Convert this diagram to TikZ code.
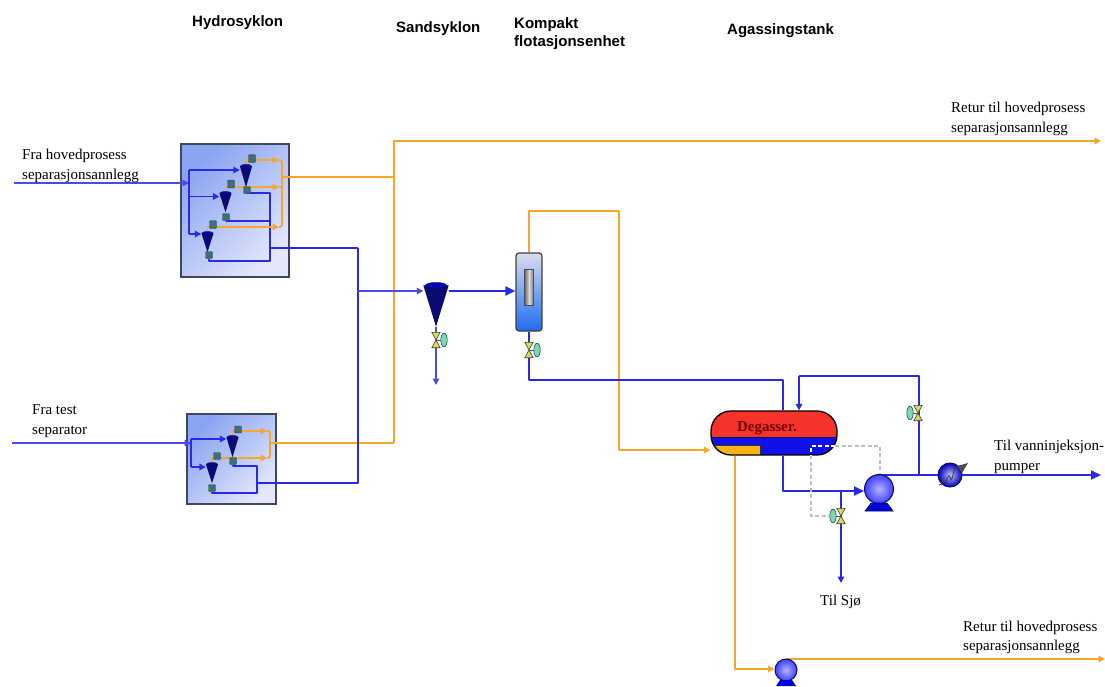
\documentclass[tikz,border=0pt]{standalone}
\usepackage{fontspec}
\setmainfont{Liberation Serif}
\newfontfamily\headfont{Liberation Sans}
\usetikzlibrary{arrows.meta}
\pgfdeclarelayer{boxes}\pgfdeclarelayer{wires}\pgfsetlayers{boxes,wires,main}
\definecolor{wb}{HTML}{2A2AE4}
\definecolor{wo}{HTML}{F5A62B}
\definecolor{navy}{HTML}{0A0A70}
\definecolor{tealdk}{HTML}{3F6F78}
\definecolor{vy}{HTML}{D8D860}
\definecolor{vg}{HTML}{7FD8B0}
\definecolor{skidedge}{HTML}{3F4858}
\definecolor{skiddark}{HTML}{8AA4F2}
\definecolor{skidlight}{HTML}{E4E7FB}
\definecolor{cfutop}{HTML}{DADCEE}
\definecolor{cfubot}{HTML}{1E6CF0}
\definecolor{degred}{HTML}{F5332B}
\definecolor{degblue}{HTML}{1010E8}
\definecolor{degor}{HTML}{FBB016}
\tikzset{
 wireb/.style={draw=wb,line width=1.9pt,line join=round},
 wireo/.style={draw=wo,line width=1.9pt,line join=round},
 feed/.style={draw=wb!85!white,line width=1.4pt},
 bigtip/.tip={Triangle[length=10pt,width=9pt]},
 smalltip/.tip={Triangle[length=6.5pt,width=6.5pt]},
 head/.style={font=\headfont\bfseries\fontsize{15}{18}\selectfont,align=left,anchor=west,inner sep=0},
 lab/.style={font=\fontsize{15}{19.5}\selectfont,align=left,anchor=west,inner sep=0},
 skid/.style={draw=skidedge,line width=1.7pt,top color=skiddark,bottom color=skidlight,shading angle=45,inner sep=0},
 ball/.style={circle,draw=navy,line width=1pt,inner color=blue!30!white,outer color=blue!75!white,inner sep=0},
 devb/.style={fill=tealdk,draw=tealdk!70!black,line width=.4pt,rounded corners=1pt,inner sep=0},
 ctrl/.style={draw=black!25,line width=1.1pt,dash pattern=on 4pt off 2.5pt},
}
% cyclone: name, x, y, width, height
\newcommand\cyclone[5]{%
 \node[inner sep=0,minimum width=#4pt,minimum height=#5pt] (#1) at (#2,#3) {};
 \fill[navy] (#1.north west) -- (#1.north east) -- (#1.south) -- cycle;
 \fill[blue!50!navy,draw=navy] (#1.north) ellipse [x radius=.42*#4pt,y radius=.07*#5pt];
}
% valve: name, x, y, side of handle (-1 left, 1 right)
\newcommand\valve[4]{%
 \node[inner sep=0,minimum width=8pt,minimum height=15pt] (#1) at (#2,#3) {};
 \draw[black!70,line width=.7pt] (#1.center) -- ++(#4*6pt,0);
 \filldraw[fill=vg,draw=teal!70!black,line width=.6pt] ([xshift=#4*8pt]#1.center) ellipse [x radius=3.2pt,y radius=6.8pt];
 \filldraw[fill=vy,draw=black!70!olive,line width=.6pt] (#1.north west) -- (#1.north east) -- (#1.south west) -- (#1.south east) -- cycle;
}
\begin{document}
\begin{tikzpicture}[x=1pt,y=-1pt]
\useasboundingbox (0,0) rectangle (1105,686);
\begin{pgfonlayer}{boxes}
 \fill[white] (0,0) rectangle (1105,686);
 \node[skid,minimum width=108pt,minimum height=133pt] (skidA) at (235,210.5) {};
 \node[skid,minimum width=89pt,minimum height=90pt] (skidB) at (231.5,459) {};
\end{pgfonlayer}

% texts
\node[head] (hHydro) at (192,23) {Hydrosyklon};
\node[head] (hSand) at (396,29) {Sandsyklon};
\node[head] (hKomp) at (514,34) {Kompakt\\flotasjonsenhet};
\node[head] (hAgas) at (727,31) {Agassingstank};
\node[lab] (lFra) at (22,166) {Fra hovedprosess\\separasjonsannlegg};
\node[lab] (lTest) at (32,421) {Fra test\\separator};
\node[lab] (lRet1) at (951,119) {Retur til hovedprosess\\separasjonsannlegg};
\node[lab] (lVann) at (994,457) {Til vanninjeksjon-\\pumper};
\node[lab] (lSjo) at (820,602) {Til Sjø};
\node[lab] (lRet2) at (963,637.5) {Retur til hovedprosess\\separasjonsannlegg};

% cyclones in the first skid
\cyclone{cA}{246}{176.5}{12}{21}
\cyclone{cB}{225.5}{202.5}{12}{19}
\cyclone{cC}{207.5}{242.5}{12}{19}
\node[devb,minimum width=7pt,minimum height=7pt] (vA) at (247,190) {};
\node[devb,minimum width=7pt,minimum height=7pt] (vB) at (226,217) {};
\node[devb,minimum width=7pt,minimum height=7pt] (vC) at (209,255) {};
\node[devb,minimum width=7pt,minimum height=8pt] (tA) at (252,158.5) {};
\node[devb,minimum width=7pt,minimum height=8pt] (tB) at (231,184) {};
\node[devb,minimum width=7pt,minimum height=8pt] (tC) at (213,224.5) {};
% cyclones in the second skid
\cyclone{cD}{232.5}{447}{12}{20}
\cyclone{cE}{212}{473.5}{12}{19}
\node[devb,minimum width=7pt,minimum height=7pt] (vD) at (233,461) {};
\node[devb,minimum width=7pt,minimum height=7pt] (vE) at (212,488) {};
\node[devb,minimum width=7pt,minimum height=7pt] (tD) at (238,429.5) {};
\node[devb,minimum width=7pt,minimum height=7pt] (tE) at (217,456) {};

% sand cyclone
\cyclone{sand}{436}{306}{25}{41}
\valve{vSand}{436}{340}{1}
% flotation unit
\node[rounded corners=3pt,draw=black!75,line width=1.2pt,top color=cfutop,middle color=cfutop,bottom color=cfubot,inner sep=0,minimum width=26pt,minimum height=78pt] (cfu) at (529,292) {};
\node[draw=black!70,line width=.6pt,left color=black!60,right color=black!50,middle color=black!15,inner sep=0,minimum width=9pt,minimum height=36pt] (cfuwin) at (529,287) {};
\valve{vCfu}{529}{350}{1}
% degasser
\node[draw=black,line width=1.3pt,rounded corners=20pt,inner sep=0,minimum width=126pt,minimum height=44pt,
 path picture={
  \fill[degred,sharp corners] (path picture bounding box.north west) rectangle ([yshift=-26pt]path picture bounding box.north east);
  \fill[degblue,sharp corners] ([yshift=-26pt]path picture bounding box.north west) rectangle (path picture bounding box.south east);
  \filldraw[fill=degor,draw=black!80,line width=.6pt,sharp corners] ([yshift=-34pt]path picture bounding box.north west) rectangle ([xshift=49pt,yshift=-2pt]path picture bounding box.south west);
  \draw[black!60!blue,line width=.7pt] ([yshift=-26pt]path picture bounding box.north west) -- ([yshift=-26pt]path picture bounding box.north east);
 }] (degas) at (774,433) {};
\node[inner sep=0,font=\bfseries\fontsize{15}{15}\selectfont,text=red!45!black] (degastxt) at (767,428.5) {Degasser.};
% pumps
\node[ball,minimum size=29pt] (pump) at (879,489) {};
\fill[blue!85!black,draw=navy,line width=.6pt] (865,511) -- (871,503) -- (887,503) -- (893,511) -- cycle;
\node[ball,minimum size=22pt] (pump2) at (786,670) {};
\fill[blue!85!black] (776,686) -- (780,680) -- (792,680) -- (796,686) -- cycle;
% heat exchanger
\node[ball,minimum size=24pt,outer color=blue!70!black,inner color=blue!25!white] (hx) at (950,475) {};
\draw[black!80,line width=.7pt] (939,485) -- (946,482) .. controls (949,472) and (950,476) .. (951,480) .. controls (953,478) and (953,472) .. (955,468);
\fill[black!70] (968,463) -- (957,466) -- (962,473) -- cycle;
\valve{vSjo}{841}{516}{-1}
\valve{vRec}{918}{413}{-1}

% control lines
\coordinate (ctA) at (811,446);
\coordinate (ctB) at (880,446);
\coordinate (ctC) at (811,516);
\coordinate (ctV) at (835,446);
\coordinate (ctW) at (811,455);
\draw[ctrl] (ctV) -- (ctB) -- (pump.north -| ctB);
\draw[ctrl] (ctW) -- (ctC) -- ([xshift=-12pt]vSjo.center);
\draw[white,line width=1.1pt,dash pattern=on 4pt off 2.5pt] (ctV) -- (ctA) -- (ctW);

% junctions and free ends
\coordinate (in1) at (14,183);
\coordinate (jA) at (189,183);
\coordinate (jAt) at (189,170);
\coordinate (jAm) at (189,196.5);
\coordinate (jAb) at (189,234);
\coordinate (rA) at (270,193);
\coordinate (rB) at (270,221);
\coordinate (rC) at (270,261);
\coordinate (rO) at (270,248);
\coordinate (aA) at (279,160);
\coordinate (aB) at (279,187);
\coordinate (aC) at (279,227);
\coordinate (oA) at (282,177);
\coordinate (oM) at (393,177);
\coordinate (oT) at (393,141);
\coordinate (ret1) at (1101,141);
\coordinate (in2) at (12,443);
\coordinate (jB) at (191,443);
\coordinate (jBt) at (191,439);
\coordinate (jBb) at (191,467);
\coordinate (aD) at (267,431);
\coordinate (aE) at (267,458);
\coordinate (oB) at (270,443);
\coordinate (oB2) at (394,443);
\coordinate (rD) at (257,466);
\coordinate (rE) at (257,493);
\coordinate (rF) at (257,483);
\coordinate (col) at (358,483);
\coordinate (colT) at (358,248);
\coordinate (colM) at (358,291);
\coordinate (sandout) at (436,385);
\coordinate (top) at (619,211);
\coordinate (deg1) at (619,450);
\coordinate (cb) at (783,380);
\coordinate (pl) at (783,491);
\coordinate (sjo) at (841,491);
\coordinate (sjoout) at (841,583);
\coordinate (dp) at (880,475);
\coordinate (rcJ) at (919,475);
\coordinate (rcT) at (919,376);
\coordinate (rcL) at (799,376);
\coordinate (vann) at (1101,475);
\coordinate (dk) at (735,669);
\coordinate (pout) at (786,659);
\coordinate (ret2) at (1105,659);

\begin{pgfonlayer}{wires}
 % first skid
 \draw[feed,-{smalltip}] (in1) -- (jA);
 \draw[wireb] (jAt) -- (jAb);
 \draw[wireb,-smalltip] (jAt) -- (cA.north west |- jAt);
 \draw[wireb,-smalltip] (jAm) -- (cB.north west |- jAm);
 \draw[wireb,-smalltip] (jAb) -- (cC.north west |- jAb);
 \draw[wireb] (vA) |- (rA) -- (rC) -| (vC);
 \draw[wireb] (vB) |- (rB);
 \draw[wireo,-smalltip] (cA.north) |- (aA);
 \draw[wireo,-smalltip] (cB.north) |- (aB);
 \draw[wireo,-smalltip] (cC.north) |- (aC);
 \draw[wireo,rounded corners=2.5pt] (aA) -- (282,160) -- (282,227) -- (aC);
 \draw[wireo] (aB) -- (282,187);
 \draw[wireo] (oA) -- (oM);
 \draw[wireb] (rO) -- (colT);
 % second skid
 \draw[feed,-{smalltip}] (in2) -- (jB);
 \draw[wireb] (jBt) -- (jBb);
 \draw[wireb,-smalltip] (jBt) -- (cD.north west |- jBt);
 \draw[wireb,-smalltip] (jBb) -- (cE.north west |- jBb);
 \draw[wireb] (vD) |- (rD) -- (rE) -| (vE);
 \draw[wireo,-smalltip] (cD.north) |- (aD);
 \draw[wireo,-smalltip] (cE.north) |- (aE);
 \draw[wireo,rounded corners=2.5pt] (aD) -- (270,431) -- (270,458) -- (aE);
 \draw[wireo] (oB) -- (oB2);
 \draw[wireb] (rF) -- (col) -- (colT);
 % main orange return
 \draw[wireo,-smalltip] (oB2) -- (oB2 |- oT) -- (ret1);
 % to sand cyclone and flotation
 \draw[feed,-smalltip] (colM) -- (sand.north west |- colM);
 \draw[wireb,-bigtip] (sand.north east |- colM) -- (cfu.west |- colM);
 \draw[feed,-smalltip] (sand.south) -- (sandout);
 \draw[wireo] (cfu.north) |- (top) -- (deg1);
 \draw[wireo,-smalltip] (deg1) -- (degas.west |- deg1);
 \draw[wireb] (cfu.south) -- (vCfu) |- (cb) -- (cb |- degas.north);
 % degasser outlet
 \draw[wireb,-bigtip] (cb |- degas.south) -- (pl) -- (pump.west |- pl);
 \draw[wireb,-smalltip] (sjo) -- (sjoout);
 \draw[wireb,-bigtip] (dp) -- (vann);
 \draw[wireb] (rcJ) -- (rcT) -- (rcL);
 \draw[wireb,-smalltip] (rcL) -- (rcL |- degas.north);
 % orange bottom
 \draw[wireo,-smalltip] (dk |- degas.south) -- (dk) -- (pump2.west |- dk);
 \draw[wireo,-smalltip] (pout) -- (ret2);
\end{pgfonlayer}
\end{tikzpicture}
\end{document}
